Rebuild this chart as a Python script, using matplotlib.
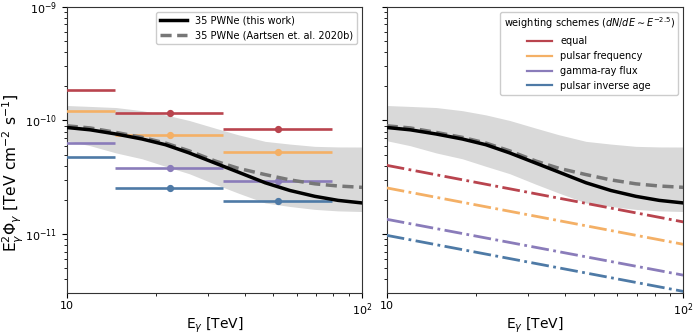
import matplotlib
matplotlib.use("Agg")
import matplotlib.pyplot as plt
from matplotlib.ticker import NullFormatter
from matplotlib.lines import Line2D

# ---- data ----
E_curve = [10, 12, 14.7, 18, 21.6, 26, 31.8, 38, 47, 57, 69.2, 83, 100]
flux_this_work = [8.68e-11, 8.28e-11, 7.6e-11, 6.87e-11, 6.12e-11, 5.18e-11, 4.22e-11,
                  3.52e-11, 2.83e-11, 2.42e-11, 2.15e-11, 1.98e-11, 1.88e-11]
flux_aartsen = [8.98e-11, 8.6e-11, 7.85e-11, 7.1e-11, 6.33e-11, 5.4e-11, 4.4e-11,
                3.8e-11, 3.34e-11, 3.0e-11, 2.77e-11, 2.65e-11, 2.58e-11]
band_upper = [1.355e-10, 1.33e-10, 1.30e-10, 1.22e-10, 1.12e-10, 1.0e-10, 8.57e-11,
              7.5e-11, 6.55e-11, 6.2e-11, 5.92e-11, 5.85e-11, 5.84e-11]
band_lower = [6.64e-11, 6.0e-11, 5.18e-11, 4.6e-11, 3.95e-11, 3.4e-11, 2.75e-11,
              2.3e-11, 1.88e-11, 1.75e-11, 1.65e-11, 1.6e-11, 1.58e-11]

bin_centers = [9.5, 22.4, 52.1]
bin_lo = [6.2, 14.6, 33.9]
bin_hi = [14.6, 33.9, 79.3]

schemes = ["equal", "pulsar frequency", "gamma-ray flux", "pulsar inverse age"]
colors = ["#b9444e", "#f4b066", "#8a7cba", "#4e7aa6"]
binned_flux = {
    "equal": [1.87e-10, 1.16e-10, 8.5e-11],
    "pulsar frequency": [1.22e-10, 7.49e-11, 5.24e-11],
    "gamma-ray flux": [6.32e-11, 3.85e-11, 2.96e-11],
    "pulsar inverse age": [4.73e-11, 2.52e-11, 1.95e-11],
}
E_pl = [10, 100]
powerlaw_flux = {
    "equal": [4.03e-11, 1.28e-11],
    "pulsar frequency": [2.55e-11, 8.13e-12],
    "gamma-ray flux": [1.35e-11, 4.35e-12],
    "pulsar inverse age": [9.75e-12, 3.13e-12],
}

# ---- figure ----
fig = plt.figure(figsize=(6.97, 3.35), dpi=100)
ax1 = fig.add_axes([0.0957, 0.1254, 0.4237, 0.854])
ax2 = fig.add_axes([0.5548, 0.1254, 0.4255, 0.854], sharey=ax1)

for ax in (ax1, ax2):
    ax.fill_between(E_curve, band_lower, band_upper, color="#d9d9d9", lw=0, zorder=1)

# left panel binned points
for name, c in zip(schemes, colors):
    y = binned_flux[name]
    xerr = [[bc - lo for bc, lo in zip(bin_centers, bin_lo)],
            [hi - bc for bc, hi in zip(bin_centers, bin_hi)]]
    ax1.errorbar(bin_centers, y, xerr=xerr, fmt="o", color=c, ms=4.2, elinewidth=1.9,
                 capsize=0, zorder=3)

# right panel power laws
for name, c in zip(schemes, colors):
    ax2.plot(E_pl, powerlaw_flux[name], ls="-.", color=c, lw=2, zorder=3)

for ax in (ax1, ax2):
    ax.plot(E_curve, flux_this_work, color="black", lw=2.5, zorder=5,
            label="35 PWNe (this work)")
    ax.plot(E_curve, flux_aartsen, color="#777777", lw=2.5, ls=(0, (3.2, 1.6)),
            zorder=4, label="35 PWNe (Aartsen et. al. 2020b)")

for ax in (ax1, ax2):
    ax.set_xscale("log")
    ax.set_yscale("log")
    ax.set_xlim(10, 100)
    ax.set_ylim(3.03e-12, 1e-9)
    ax.set_xticks([10, 100])
    ax.set_xticklabels(["10", r"$10^2$"])
    ax.xaxis.set_minor_formatter(NullFormatter())
    ax.tick_params(labelsize=8)
    ax.tick_params(axis="x", pad=2.5)
    ax.set_xlabel(r"E$_\gamma$ [TeV]", fontsize=10, labelpad=-1.5)
    for s in ax.spines.values():
        s.set_color("#333333")

ax1.set_yticks([1e-11, 1e-10, 1e-9])
plt.setp(ax2.get_yticklabels(), visible=False)
ax1.set_ylabel(r"E$_\gamma^2\Phi_\gamma$ [TeV cm$^{-2}$ s$^{-1}$]", fontsize=11.2,
               labelpad=0)
ax1.yaxis.set_label_coords(-0.138, 0.42)

ax1.legend(loc="upper right", fontsize=7, handlelength=2.8, framealpha=1,
           edgecolor="#cccccc")

handles = [Line2D([], [], color=c, lw=1.6) for c in colors]
ax2.legend(handles, schemes, loc="upper right", fontsize=7,
           title=r"weighting schemes ($dN/dE \sim E^{-2.5}$)", title_fontsize=7,
           handlelength=2.6, framealpha=1, edgecolor="#cccccc")

fig.savefig("out.png", dpi=100)
